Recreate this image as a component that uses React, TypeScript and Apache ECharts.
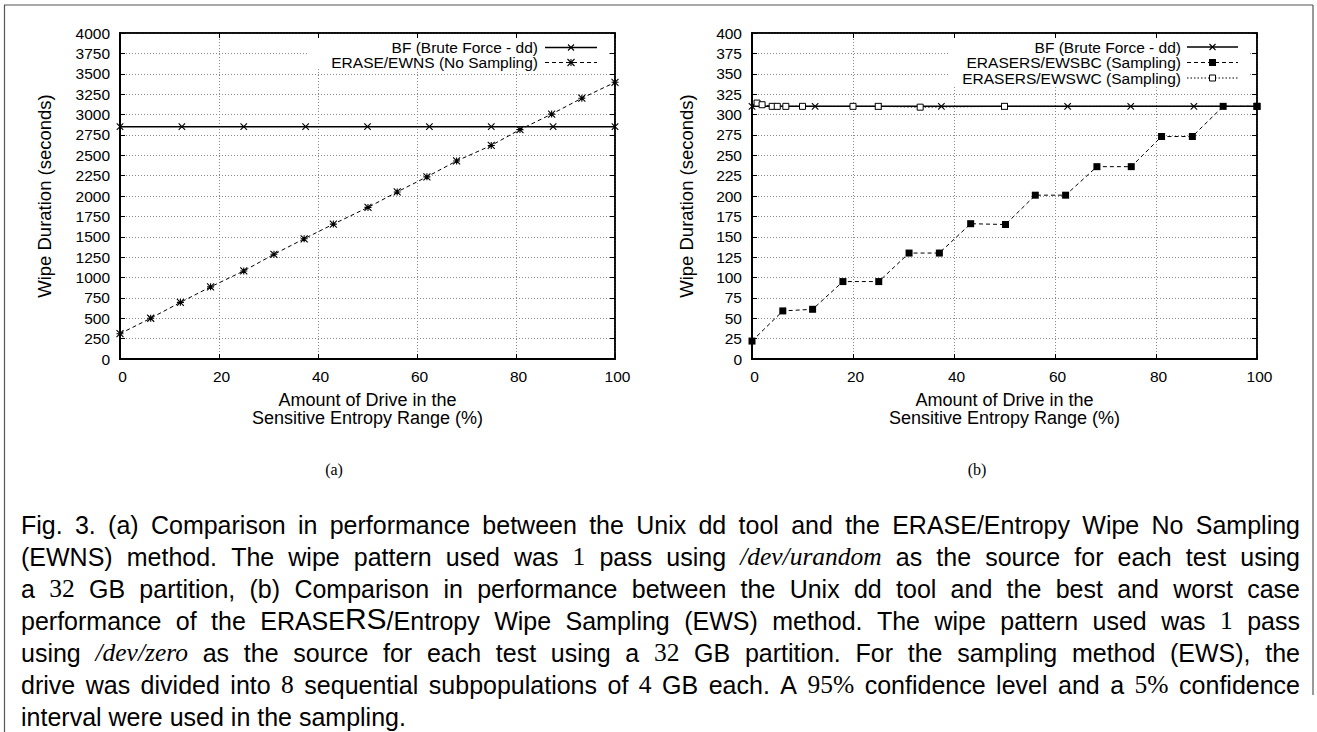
import React, { useEffect, useRef } from 'react';
import * as echarts from 'echarts';

// ---------- data ----------
// panel (a)
const bfAX = [0, 12.5, 25, 37.5, 50, 62.5, 75, 87.5, 100];
const bfAY = [2850, 2850, 2850, 2850, 2850, 2850, 2850, 2850, 2850];
const ewnsX = [0, 6.2, 12.2, 18.3, 25, 31.1, 37.2, 43.1, 50.1, 56, 62, 68, 75, 80.8, 87.2, 93.3, 100];
const ewnsY = [310, 500, 695, 885, 1080, 1285, 1475, 1655, 1860, 2050, 2235, 2430, 2620, 2815, 3005, 3200, 3395];
// panel (b)
const bfBX = [0, 12.5, 25, 37.5, 50, 62.5, 75, 87.5, 100];
const bfBY = [310, 310, 310, 310, 310, 310, 310, 310, 310];
const ewsbcX = [0, 6.1, 12, 18, 25.1, 31.1, 37.1, 43.3, 50.2, 56.1, 62.1, 68.3, 75.1, 81.1, 87.2, 93.3, 100];
const ewsbcY = [22, 59, 61, 95, 95, 130, 130, 166, 165, 201, 201, 236, 236, 273, 273, 310, 310];
const ewswcX = [1, 2, 4, 5, 6.7, 10, 20, 25, 33.3, 50, 100];
const ewswcY = [314, 312, 310, 310, 310, 310, 310, 310, 309, 310, 310];

const legendA = ['BF (Brute Force - dd)', 'ERASE/EWNS (No Sampling)'];
const legendB = ['BF (Brute Force - dd)', 'ERASERS/EWSBC (Sampling)', 'ERASERS/EWSWC (Sampling)'];
const xName = 'Amount of Drive in the\nSensitive Entropy Range (%)';
const yName = 'Wipe Duration (seconds)';
const panelLabels = ['(a)', '(b)'];
const captionLines = [
  'Fig. 3.  (a) Comparison in performance between the Unix dd tool and the ERASE/Entropy Wipe No Sampling',
  '(EWNS) method. The wipe pattern used was {n|1} pass using {m|/dev/urandom} as the source for each test using',
  'a {n|32} GB partition, (b) Comparison in performance between the Unix dd tool and the best and worst case',
  'performance of the ERASE{b|RS}/Entropy Wipe Sampling (EWS) method. The wipe pattern used was {n|1} pass',
  'using {m|/dev/zero} as the source for each test using a {n|32} GB partition. For the sampling method (EWS), the',
  'drive was divided into {n|8} sequential subpopulations of {n|4} GB each. A {n|95%} confidence level and a {n|5%} confidence',
  'interval were used in the sampling.',
];

// ---------- styles ----------
const FONT = '"Liberation Sans", Arial, Helvetica, sans-serif';
const SERIF = '"Liberation Serif", "Times New Roman", serif';
const CAP_SIZE = 25;
const crossPath = 'path://M0,0L10,10M10,0L0,10';
const starPath = 'path://M0,0L10,10M10,0L0,10M5,0L5,10M0,5L10,5';
const zip = (xs: number[], ys: number[]) => xs.map((x, i) => [x, ys[i]]);
const plain = (v: number) => String(v);

const gridLine = { show: true, lineStyle: { color: '#8a8a8a', width: 1, type: [1, 2] as any } };

function xAxes(grid: number) {
  return [
    {
      gridIndex: grid, type: 'value', min: 0, max: 100, interval: 20, position: 'bottom',
      axisLine: { show: true, onZero: false, lineStyle: { color: '#000', width: 2 } },
      axisTick: { show: true, inside: true, length: 5, lineStyle: { color: '#000', width: 1 } },
      axisLabel: { margin: 9, color: '#000', fontSize: 15.5, fontFamily: FONT, padding: [0, 0, 0, 5], formatter: plain },
      splitLine: gridLine,
      name: xName, nameLocation: 'middle', nameGap: 32,
      nameTextStyle: { fontSize: 18, fontFamily: FONT, color: '#000', lineHeight: 18 },
    },
    {
      gridIndex: grid, type: 'value', min: 0, max: 100, interval: 20, position: 'top',
      axisLine: { show: true, onZero: false, lineStyle: { color: '#000', width: 1.5 } },
      axisTick: { show: true, inside: true, length: 5, lineStyle: { color: '#000', width: 1 } },
      axisLabel: { show: false }, splitLine: { show: false },
    },
  ];
}
function yAxes(grid: number, max: number, interval: number, nameGap: number) {
  return [
    {
      gridIndex: grid, type: 'value', min: 0, max, interval, position: 'left',
      axisLine: { show: true, onZero: false, lineStyle: { color: '#000', width: 2 } },
      axisTick: { show: true, inside: true, length: 5, lineStyle: { color: '#000', width: 1 } },
      axisLabel: { margin: 10, color: '#000', fontSize: 15.5, fontFamily: FONT, formatter: plain },
      splitLine: gridLine,
      name: yName, nameLocation: 'middle', nameGap,
      nameTextStyle: { fontSize: 18.5, fontFamily: FONT, color: '#000' },
    },
    {
      gridIndex: grid, type: 'value', min: 0, max, interval, position: 'right',
      axisLine: { show: true, onZero: false, lineStyle: { color: '#000', width: 1.5 } },
      axisTick: { show: true, inside: true, length: 5, lineStyle: { color: '#000', width: 1 } },
      axisLabel: { show: false }, splitLine: { show: false },
    },
  ];
}

function markerGraphic(kind: string, cx: number, cy: number): any[] {
  const z = 45;
  const st = { stroke: '#000', lineWidth: 1.1 };
  const ln = (x1: number, y1: number, x2: number, y2: number) => ({ type: 'line', z, shape: { x1, y1, x2, y2 }, style: st });
  if (kind === 'cross') return [ln(cx - 3, cy - 3, cx + 3, cy + 3), ln(cx - 3, cy + 3, cx + 3, cy - 3)];
  if (kind === 'star')
    return [ln(cx - 3.5, cy - 3.5, cx + 3.5, cy + 3.5), ln(cx - 3.5, cy + 3.5, cx + 3.5, cy - 3.5), ln(cx, cy - 3.5, cx, cy + 3.5), ln(cx - 3.5, cy, cx + 3.5, cy)];
  if (kind === 'fsq') return [{ type: 'rect', z, shape: { x: cx - 3.5, y: cy - 3.5, width: 7, height: 7 }, style: { fill: '#000' } }];
  return [{ type: 'rect', z, shape: { x: cx - 3, y: cy - 3, width: 6, height: 6 }, style: { fill: '#fff', stroke: '#000', lineWidth: 1 } }];
}

function legendGraphic(bg: number[], textRight: number, sx1: number, sx2: number, rows: { label: string; y: number; dash: any; width: number; marker: string }[]) {
  const out: any[] = [
    { type: 'rect', z: 40, shape: { x: bg[0], y: bg[1], width: bg[2], height: bg[3] }, style: { fill: '#fff' } },
  ];
  rows.forEach((r) => {
    out.push({
      type: 'text', z: 45, x: textRight, y: r.y,
      style: { text: r.label, fill: '#000', fontSize: 15.5, fontFamily: FONT, textAlign: 'right', textVerticalAlign: 'middle', align: 'right', verticalAlign: 'middle' },
    });
    out.push({ type: 'line', z: 45, shape: { x1: sx1, y1: r.y, x2: sx2, y2: r.y }, style: { stroke: '#000', lineWidth: r.width, lineDash: r.dash } });
    out.push(...markerGraphic(r.marker, (sx1 + sx2) / 2, r.y));
  });
  return out;
}

const RUN_FONTS: Record<string, { family: string; size: number; style: string }> = {
  s: { family: FONT, size: CAP_SIZE, style: 'normal' },
  n: { family: SERIF, size: CAP_SIZE + 0.5, style: 'normal' },
  m: { family: SERIF, size: CAP_SIZE + 0.5, style: 'italic' },
  b: { family: FONT, size: CAP_SIZE + 5, style: 'normal' },
};

function parseRuns(word: string) {
  const runs: { t: string; k: string }[] = [];
  const re = /\{(\w)\|([^}]*)\}/g;
  let last = 0;
  let m: RegExpExecArray | null;
  while ((m = re.exec(word))) {
    if (m.index > last) runs.push({ t: word.slice(last, m.index), k: 's' });
    runs.push({ t: m[2], k: m[1] });
    last = re.lastIndex;
  }
  if (last < word.length) runs.push({ t: word.slice(last), k: 's' });
  return runs;
}

function captionGraphic(): any[] {
  const ctx = document.createElement('canvas').getContext('2d')!;
  const fontStr = (k: string) => {
    const f = RUN_FONTS[k];
    return `${f.style === 'italic' ? 'italic ' : ''}${f.size}px ${f.family}`;
  };
  const measure = (t: string, k: string) => {
    ctx.font = fontStr(k);
    return ctx.measureText(t).width;
  };
  const rich: any = {};
  Object.keys(RUN_FONTS).forEach((k) => {
    const f = RUN_FONTS[k];
    rich[k] = { fontFamily: f.family, fontSize: f.size, fontStyle: f.style, fill: '#000', color: '#000', verticalAlign: 'bottom' };
  });
  const L = 21;
  const R = 1300;
  const spaceW = measure(' ', 's');
  const out: any[] = [];
  captionLines.forEach((line, li) => {
    const words = line.split(/ +/).map((w) => {
      const runs = parseRuns(w);
      const width = runs.reduce((a, r) => a + measure(r.t, r.k), 0);
      const text = runs.map((r) => `{${r.k}|${r.t}}`).join('');
      return { width, text };
    });
    const total = words.reduce((a, w) => a + w.width, 0);
    const last = li === captionLines.length - 1;
    let gap = spaceW;
    if (!last && words.length > 1) gap = Math.max(2, (R - L - total) / (words.length - 1));
    let x = L;
    const yBottom = 525 + li * 32 + 12.5;
    words.forEach((w) => {
      out.push({
        type: 'text', z: 50, x, y: yBottom,
        style: { text: w.text, rich, fill: '#000', fontSize: CAP_SIZE, fontFamily: FONT, textAlign: 'left', align: 'left', textVerticalAlign: 'bottom', verticalAlign: 'bottom' },
      });
      x += w.width + gap;
    });
  });
  return out;
}

export default function App() {
  const ref = useRef<HTMLDivElement>(null);
  useEffect(() => {
    document.body.style.margin = '0';
    if (!ref.current) return;
    const chart = echarts.init(ref.current, null, { renderer: 'svg' });

    const graphics: any[] = [
      // outer frame
      { type: 'line', z: 30, shape: { x1: 4, y1: 5, x2: 1313, y2: 5 }, style: { stroke: '#555', lineWidth: 1.2 } },
      { type: 'line', z: 30, shape: { x1: 4.5, y1: 5, x2: 4.5, y2: 732 }, style: { stroke: '#555', lineWidth: 1.2 } },
      { type: 'line', z: 30, shape: { x1: 1313, y1: 5, x2: 1313, y2: 695 }, style: { stroke: '#555', lineWidth: 1.2 } },
      ...legendGraphic([308, 38, 299, 30], 538, 545, 597, [
        { label: legendA[0], y: 47.5, dash: null, width: 1.5, marker: 'cross' },
        { label: legendA[1], y: 62.5, dash: [4, 3], width: 1, marker: 'star' },
      ]),
      ...legendGraphic([950, 38, 298, 49], 1181, 1187, 1238, [
        { label: legendB[0], y: 47, dash: null, width: 1.5, marker: 'cross' },
        { label: legendB[1], y: 62.5, dash: [4, 3], width: 1, marker: 'fsq' },
        { label: legendB[2], y: 78, dash: [1.5, 2], width: 1, marker: 'osq' },
      ]),
      {
        type: 'text', z: 50, x: 334, y: 469,
        style: { text: panelLabels[0], fill: '#000', fontSize: 16, fontFamily: SERIF, textAlign: 'center', align: 'center', textVerticalAlign: 'middle', verticalAlign: 'middle' },
      },
      {
        type: 'text', z: 50, x: 977, y: 469,
        style: { text: panelLabels[1], fill: '#000', fontSize: 16, fontFamily: SERIF, textAlign: 'center', align: 'center', textVerticalAlign: 'middle', verticalAlign: 'middle' },
      },
      ...captionGraphic(),
    ];

    const option: any = {
      animation: false,
      backgroundColor: '#fff',
      grid: [
        { left: 120, top: 33, width: 495, height: 326, show: true, borderColor: '#000', borderWidth: 1.5, backgroundColor: 'transparent' },
        { left: 752, top: 33, width: 505, height: 326, show: true, borderColor: '#000', borderWidth: 1.5, backgroundColor: 'transparent' },
      ],
      xAxis: [...xAxes(0), ...xAxes(1)],
      yAxis: [...yAxes(0, 4000, 250, 66), ...yAxes(1, 400, 25, 56)],
      series: [
        {
          type: 'line', name: legendA[0], xAxisIndex: 0, yAxisIndex: 0, data: zip(bfAX, bfAY), silent: true,
          symbol: crossPath, symbolSize: 6.5, lineStyle: { color: '#000', width: 1.5 },
          itemStyle: { color: '#000', borderColor: '#000', borderWidth: 1.1 }, z: 3,
        },
        {
          type: 'line', name: legendA[1], xAxisIndex: 0, yAxisIndex: 0, data: zip(ewnsX, ewnsY), silent: true,
          symbol: starPath, symbolSize: 7, lineStyle: { color: '#000', width: 1, type: [4, 3] },
          itemStyle: { color: '#000', borderColor: '#000', borderWidth: 1.1 }, z: 4,
        },
        {
          type: 'line', name: legendB[0], xAxisIndex: 2, yAxisIndex: 2, data: zip(bfBX, bfBY), silent: true,
          symbol: crossPath, symbolSize: 6.5, lineStyle: { color: '#000', width: 1.5 },
          itemStyle: { color: '#000', borderColor: '#000', borderWidth: 1.1 }, z: 3,
        },
        {
          type: 'line', name: legendB[2], xAxisIndex: 2, yAxisIndex: 2, data: zip(ewswcX, ewswcY), silent: true,
          symbol: 'rect', symbolSize: 6, lineStyle: { color: '#000', width: 1, type: [1.5, 2] },
          itemStyle: { color: '#fff', borderColor: '#000', borderWidth: 1 }, z: 4,
        },
        {
          type: 'line', name: legendB[1], xAxisIndex: 2, yAxisIndex: 2, data: zip(ewsbcX, ewsbcY), silent: true,
          symbol: 'rect', symbolSize: 7, lineStyle: { color: '#000', width: 1, type: [4, 3] },
          itemStyle: { color: '#000', borderColor: '#000', borderWidth: 0 }, z: 5,
        },
      ],
      graphic: { elements: graphics },
    };
    chart.setOption(option);
    return () => chart.dispose();
  }, []);
  return <div ref={ref} style={{ width: 1317, height: 732 }} />;
}
